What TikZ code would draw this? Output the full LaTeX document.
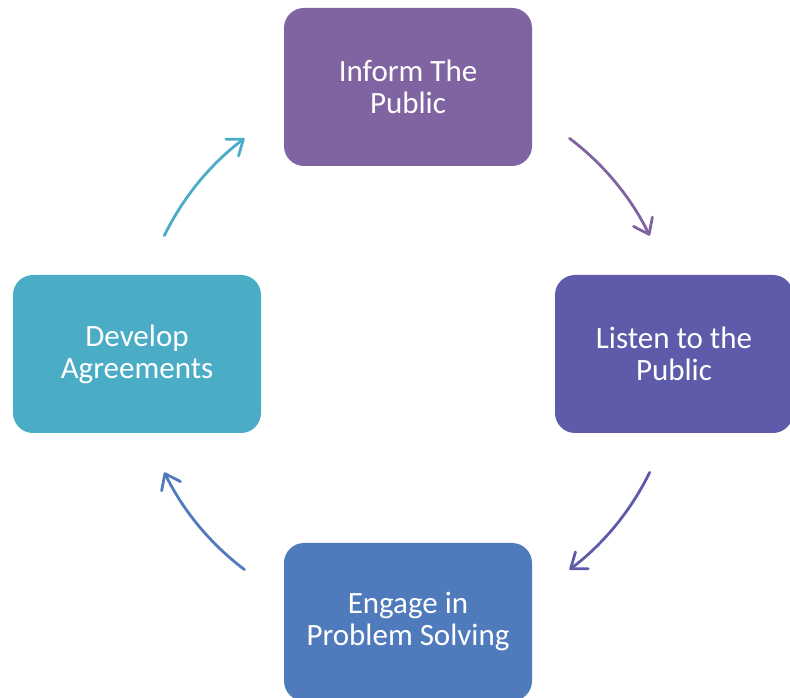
\documentclass[tikz,border=0pt]{standalone}
\usepackage{fontspec}
\setmainfont{Carlito}
\usepackage{xcolor}
\usetikzlibrary{positioning}
\usetikzlibrary{arrows.meta,calc}

\definecolor{mauve}{HTML}{8064A2}
\definecolor{lavande}{HTML}{5F5BAB}
\definecolor{bleu}{HTML}{4F7BBD}
\definecolor{turquoise}{HTML}{4BACC6}

\begin{document}
\begin{tikzpicture} [
  x = 1pt, y = 1pt,
  boite/.style = {rectangle, rounded corners = 20pt, minimum width = 248pt, minimum height = 158pt,
    inner sep = 0pt, text = white, align = center, font = \fontsize{31}{32}\selectfont},
  line/.style = {draw, line width = 2.8pt, line cap = round, -{Straight Barb[length=14pt, width=21pt, round]}},
]

\useasboundingbox (0,0) rectangle (790,698);
\coordinate (centre) at (407,344);

 \node [boite, fill = mauve] (inform) at (408,611) {Inform The\\Public};
 \node [boite, fill = lavande, minimum width = 238pt, node distance = 267pt, below of = inform, xshift = 266pt] (listen) {Listen to the\\Public};
 \node [boite, fill = bleu, node distance = 535pt, below of = inform] (engage) {Engage in\\Problem Solving};
 \node [boite, fill = turquoise, node distance = 267pt, below of = inform, xshift = -271pt] (develop) {Develop\\Agreements};

 \begin{scope}[every path/.style=line]
\path [mauve] ([shift={(53:270)}]centre) arc [start angle = 53, end angle = 26, radius = 270];
\path [lavande] ([shift={(-26:270)}]centre) arc [start angle = -26, end angle = -53, radius = 270];
\path [bleu] ([shift={(-127:270)}]centre) arc [start angle = -127, end angle = -154, radius = 270];
\path [turquoise] ([shift={(154:270)}]centre) arc [start angle = 154, end angle = 127, radius = 270];
\end{scope}

\end{tikzpicture}
\end{document}
